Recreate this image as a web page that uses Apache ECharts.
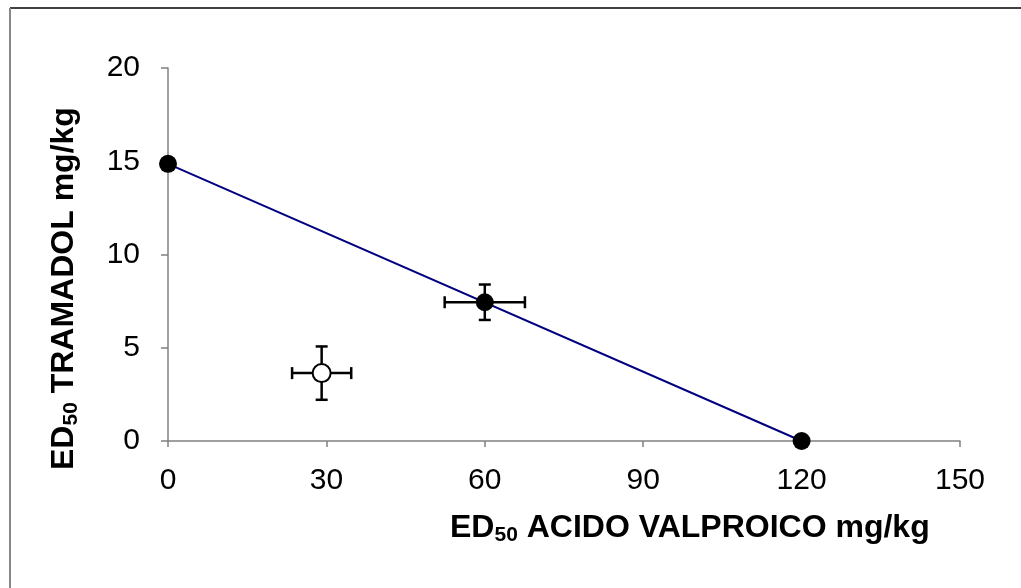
<!DOCTYPE html>
<html>
<head>
<meta charset="utf-8">
<script src="https://cdn.jsdelivr.net/npm/echarts@6/dist/echarts.min.js"></script>
<style>
  html, body { margin: 0; padding: 0; background: #fff; }
  #chart { width: 1021px; height: 588px; }
</style>
</head>
<body>
<div id="chart"></div>
<script>
// filled points (ED50 of each drug alone and experimental mixture)
var filledX = [0, 60, 120];
var filledY = [14.86, 7.44, 0];
// open point (theoretical additive)
var openX = [29.1];
var openY = [3.64];
// error bars: centre and half-widths
var errCx = [60, 29.1];
var errCy = [7.44, 3.64];
var errDx = [7.6, 5.6];
var errDy = [0.95, 1.43];
// isobole line
var lineX = [0, 120];
var lineY = [14.86, 0];

var font = 'Arial, "Liberation Sans", sans-serif';
var chart = echarts.init(document.getElementById('chart'));

function pairs(xs, ys) {
  return xs.map(function (x, i) { return [x, ys[i]]; });
}

var errData = errCx.map(function (x, i) {
  return [x, errCy[i], errDx[i], errDy[i]];
});

function renderErr(params, api) {
  var cx = api.value(0), cy = api.value(1), dx = api.value(2), dy = api.value(3);
  var l = api.coord([cx - dx, cy]);
  var r = api.coord([cx + dx, cy]);
  var t = api.coord([cx, cy + dy]);
  var b = api.coord([cx, cy - dy]);
  var cap = 6;
  var st = { stroke: '#000', lineWidth: 2.5 };
  return {
    type: 'group',
    children: [
      { type: 'line', shape: { x1: l[0], y1: l[1], x2: r[0], y2: r[1] }, style: st },
      { type: 'line', shape: { x1: l[0], y1: l[1] - cap, x2: l[0], y2: l[1] + cap }, style: st },
      { type: 'line', shape: { x1: r[0], y1: r[1] - cap, x2: r[0], y2: r[1] + cap }, style: st },
      { type: 'line', shape: { x1: t[0], y1: t[1], x2: b[0], y2: b[1] }, style: st },
      { type: 'line', shape: { x1: t[0] - cap, y1: t[1], x2: t[0] + cap, y2: t[1] }, style: st },
      { type: 'line', shape: { x1: b[0] - cap, y1: b[1], x2: b[0] + cap, y2: b[1] }, style: st }
    ]
  };
}

var titleRich = {
  b: { fontSize: 32, fontWeight: 'bold', fontFamily: font, fill: '#000' },
  s: { fontSize: 21, fontWeight: 'bold', fontFamily: font, fill: '#000', padding: [14, 0, 0, 0] }
};

var option = {
  backgroundColor: '#fff',
  animation: false,
  grid: { left: 168, top: 68, width: 792, height: 373, containLabel: false },
  xAxis: {
    type: 'value', min: 0, max: 150, interval: 30,
    axisLine: { show: true, lineStyle: { color: '#808080', width: 1.5 } },
    axisTick: { show: true, length: 6, lineStyle: { color: '#808080', width: 1.5 } },
    axisLabel: { color: '#000', fontSize: 30, fontFamily: font, margin: 25 },
    splitLine: { show: false }
  },
  yAxis: {
    type: 'value', min: 0, max: 20, interval: 5,
    axisLine: { show: true, lineStyle: { color: '#808080', width: 1.5 } },
    axisTick: { show: true, length: 7, lineStyle: { color: '#808080', width: 1.5 } },
    axisLabel: { color: '#000', fontSize: 30, fontFamily: font, margin: 28 },
    splitLine: { show: false }
  },
  graphic: [
    { type: 'line', shape: { x1: 10, y1: 8, x2: 1021, y2: 8 }, style: { stroke: '#000', lineWidth: 1.5 } },
    { type: 'line', shape: { x1: 10, y1: 8, x2: 10, y2: 588 }, style: { stroke: '#888', lineWidth: 2 } },
    {
      type: 'text', left: 450, top: 512,
      style: { text: '{b|ED}{s|50}{b| ACIDO VALPROICO mg/kg}', rich: titleRich }
    },
    {
      type: 'text', x: 47, y: 470, rotation: Math.PI / 2,
      style: { text: '{b|ED}{s|50}{b| TRAMADOL mg/kg}', rich: titleRich }
    }
  ],
  series: [
    {
      type: 'line', data: pairs(lineX, lineY), symbol: 'none',
      lineStyle: { color: '#000080', width: 2 }, z: 1
    },
    {
      type: 'custom', data: errData, renderItem: renderErr, z: 2
    },
    {
      type: 'scatter', data: pairs(filledX, filledY), symbol: 'circle', symbolSize: 18,
      itemStyle: { color: '#000', opacity: 1 }, z: 3
    },
    {
      type: 'scatter', data: pairs(openX, openY), symbol: 'circle', symbolSize: 18,
      itemStyle: { color: '#fff', borderColor: '#000', borderWidth: 2, opacity: 1 }, z: 3
    }
  ]
};
chart.setOption(option);
</script>
</body>
</html>
